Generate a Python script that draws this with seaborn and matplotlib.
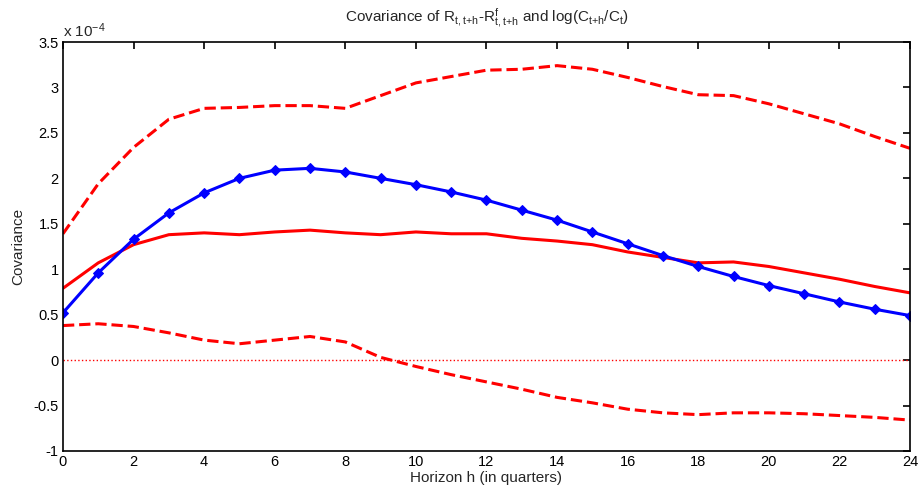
import numpy as np
import pandas as pd
import matplotlib
matplotlib.use("Agg")
import matplotlib.pyplot as plt
import seaborn as sns

# data (units of 1e-4)
horizon = list(range(25))
cov_model = [0.52, 0.96, 1.33, 1.62, 1.84, 2.00, 2.09, 2.11, 2.07, 2.00, 1.93, 1.85, 1.76,
             1.65, 1.54, 1.41, 1.28, 1.15, 1.03, 0.92, 0.82, 0.73, 0.64, 0.56, 0.49]
cov_data = [0.79, 1.07, 1.27, 1.38, 1.40, 1.38, 1.41, 1.43, 1.40, 1.38, 1.41, 1.39, 1.39,
            1.34, 1.31, 1.27, 1.19, 1.13, 1.07, 1.08, 1.03, 0.96, 0.89, 0.81, 0.74]
ci_upper = [1.39, 1.94, 2.34, 2.65, 2.77, 2.78, 2.80, 2.80, 2.77, 2.91, 3.05, 3.12, 3.19,
            3.20, 3.24, 3.20, 3.11, 3.01, 2.92, 2.91, 2.82, 2.71, 2.60, 2.46, 2.33]
ci_lower = [0.38, 0.40, 0.37, 0.30, 0.22, 0.18, 0.22, 0.26, 0.20, 0.03, -0.07, -0.16, -0.24,
            -0.32, -0.41, -0.47, -0.54, -0.58, -0.60, -0.58, -0.58, -0.59, -0.61, -0.63, -0.66]
x_ticks = list(range(0, 25, 2))
y_ticks = [-1, -0.5, 0, 0.5, 1, 1.5, 2, 2.5, 3, 3.5]

sns.set_style("white")
plt.rcParams['font.family'] = ['Liberation Sans', 'DejaVu Sans']
plt.rcParams['mathtext.default'] = 'regular'
plt.rcParams['axes.unicode_minus'] = False

df = pd.DataFrame({'h': horizon, 'model': cov_model, 'data': cov_data,
                   'upper': ci_upper, 'lower': ci_lower})

fig = plt.figure(figsize=(9.22, 5), dpi=100)
ax = fig.add_axes([0.0683, 0.098, 0.9187, 0.818])

ax.axhline(0, color='red', lw=1, ls=':')
sns.lineplot(data=df, x='h', y='upper', ax=ax, color='red', lw=2.2, linestyle='--')
sns.lineplot(data=df, x='h', y='lower', ax=ax, color='red', lw=2.2, linestyle='--')
sns.lineplot(data=df, x='h', y='data', ax=ax, color='red', lw=2.2)
sns.lineplot(data=df, x='h', y='model', ax=ax, color='blue', lw=2.2,
             marker='D', markersize=5, markeredgecolor='blue')

ax.set_xlim(0, 24)
ax.set_ylim(-1, 3.5)
ax.set_xticks(x_ticks)
ax.set_yticks(y_ticks)
ax.set_yticklabels(['%g' % v for v in y_ticks])
ax.tick_params(direction='in', top=True, right=True, length=5, width=1.2,
               labelsize=10.5, colors='black', pad=3)
for s in ax.spines.values():
    s.set_color('black')
    s.set_linewidth(1.2)

ax.set_xlabel('Horizon h (in quarters)', fontsize=11, labelpad=1)
ax.set_ylabel('Covariance', fontsize=11, labelpad=6)
ax.set_title(r'Covariance of R$_{t,t{+}h}$-R$^{f}_{t,t{+}h}$ and log(C$_{t{+}h}$/C$_{t}$)',
             fontsize=11, pad=14)
ax.text(0, 1.005, r'x 10$^{-4}$', transform=ax.transAxes, fontsize=11,
        ha='left', va='bottom')

fig.savefig('out.png', dpi=100)
